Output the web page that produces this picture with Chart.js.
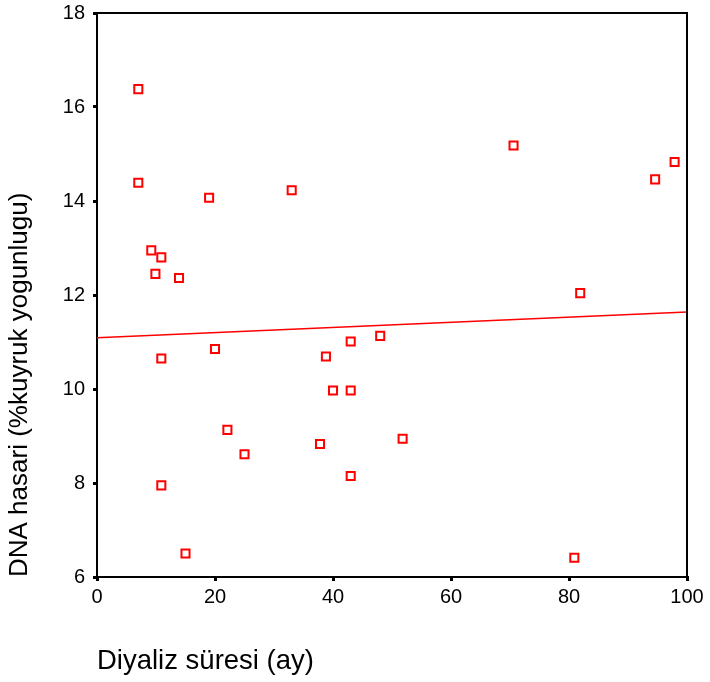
<!DOCTYPE html>
<html>
<head>
<meta charset="utf-8">
<script src="https://cdn.jsdelivr.net/npm/chart.js@4/dist/chart.umd.min.js"></script>
<style>
  html, body { margin: 0; padding: 0; background: #fff; }
  #wrap { width: 710px; height: 682px; }
</style>
</head>
<body>
<div id="wrap"><canvas id="dnaChart" width="710" height="682"></canvas></div>
<script>
// diyaliz suresi (ay) vs DNA hasari
const sureAy = [7, 7, 19, 33, 9.2, 10.9, 9.9, 13.9, 10.9, 20, 22.1, 25, 10.9, 15,
                38.8, 43, 48, 40, 43, 37.8, 51.8, 43, 70.6, 94.6, 97.9, 81.9, 80.9];
const hasar = [16.38, 14.39, 14.07, 14.23, 12.95, 12.8, 12.45, 12.36, 10.65, 10.85, 9.13, 8.61, 7.95, 6.5,
               10.69, 11.01, 11.13, 9.97, 9.97, 8.83, 8.94, 8.15, 15.18, 14.46, 14.83, 12.04, 6.41];

// fit line end points
const fitX = [0, 100];
const fitY = [11.09, 11.64];

const xTicks = [0, 20, 40, 60, 80, 100];
const yTicks = [6, 8, 10, 12, 14, 16, 18];

const kirmizi = '#ff0000';
const yazi = '"Liberation Sans", Arial, sans-serif';

const noktalar = sureAy.map((x, i) => ({ x: x, y: hasar[i] }));
const cizgi = fitX.map((x, i) => ({ x: x, y: fitY[i] }));

// top and right side of the frame
const cerceve = {
    id: 'cerceve',
    afterDraw(chart) {
        const a = chart.chartArea;
        const ctx = chart.ctx;
        ctx.save();
        ctx.strokeStyle = '#000';
        ctx.lineWidth = 2;
        ctx.beginPath();
        ctx.moveTo(a.left, a.top);
        ctx.lineTo(a.right, a.top);
        ctx.lineTo(a.right, a.bottom);
        ctx.stroke();
        ctx.restore();
    }
};

const ctx = document.getElementById('dnaChart').getContext('2d');
new Chart(ctx, {
    type: 'scatter',
    data: {
        datasets: [
            {
                type: 'line',
                data: cizgi,
                borderColor: kirmizi,
                borderWidth: 1.5,
                pointRadius: 0,
                fill: false,
                order: 2
            },
            {
                data: noktalar,
                pointStyle: 'rect',
                pointRadius: 5.7,
                borderWidth: 2,
                borderColor: kirmizi,
                backgroundColor: '#fff',
                order: 1
            }
        ]
    },
    options: {
        responsive: false,
        animation: false,
        events: [],
        layout: { padding: { top: 13, right: 23, left: 0, bottom: 0 } },
        plugins: { legend: { display: false }, tooltip: { enabled: false } },
        scales: {
            x: {
                type: 'linear',
                min: 0, max: 100,
                afterBuildTicks: s => { s.ticks = xTicks.map(v => ({ value: v })); },
                afterFit: s => { s.height = 105; s.paddingLeft = 0; s.paddingRight = 0; },
                border: { display: true, color: '#000', width: 2 },
                grid: { drawOnChartArea: false, color: '#000', lineWidth: 3, tickLength: 4 },
                ticks: {
                    color: '#000',
                    padding: 4,
                    font: { family: yazi, size: 20 }
                },
                title: {
                    display: true,
                    text: 'Diyaliz süresi (ay)',
                    align: 'start',
                    color: '#000',
                    padding: { top: 27 },
                    font: { family: yazi, size: 27.5 }
                }
            },
            y: {
                type: 'linear',
                min: 6, max: 18,
                afterBuildTicks: s => { s.ticks = yTicks.map(v => ({ value: v })); },
                afterFit: s => { s.width = 97; s.paddingTop = 0; s.paddingBottom = 0; },
                border: { display: true, color: '#000', width: 2 },
                grid: { drawOnChartArea: false, color: '#000', lineWidth: 3, tickLength: 4 },
                ticks: {
                    color: '#000',
                    padding: 8,
                    font: { family: yazi, size: 20 }
                },
                title: {
                    display: true,
                    text: 'DNA hasari (%kuyruk yogunlugu)',
                    align: 'start',
                    color: '#000',
                    padding: { bottom: 8 },
                    font: { family: yazi, size: 26 }
                }
            }
        }
    },
    plugins: [cerceve]
});
</script>
</body>
</html>
